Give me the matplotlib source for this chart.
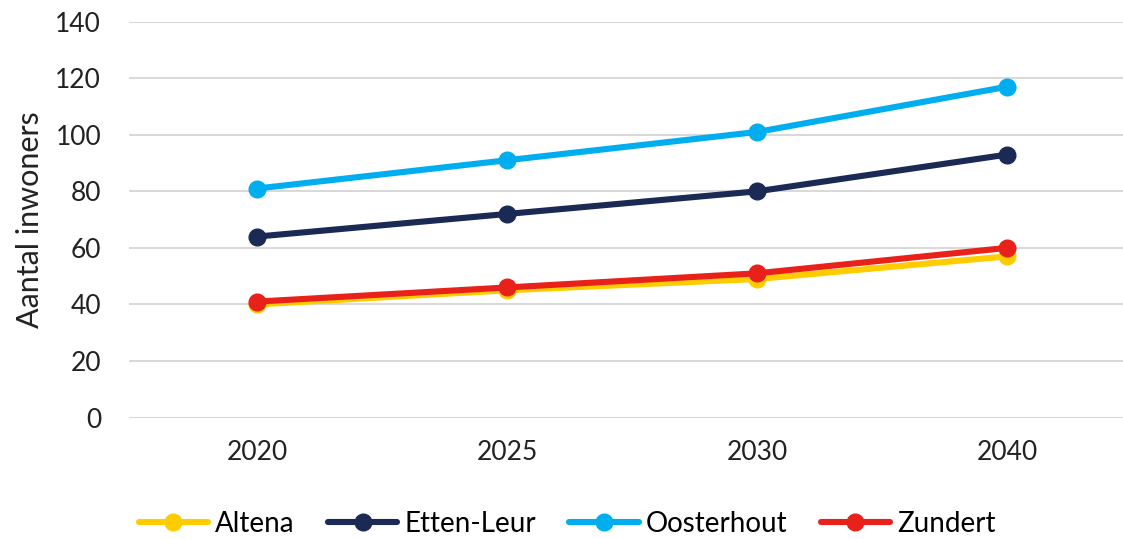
import matplotlib
matplotlib.use("Agg")
from matplotlib import pyplot as plt

# data
years = ["2020", "2025", "2030", "2040"]
altena = [40, 45, 49, 57]
etten_leur = [64, 72, 80, 93]
oosterhout = [81, 91, 101, 117]
zundert = [41, 46, 51, 60]

series = [
    ("Altena", altena, "#FFCC00"),
    ("Etten-Leur", etten_leur, "#1B2A55"),
    ("Oosterhout", oosterhout, "#00AEEF"),
    ("Zundert", zundert, "#E8211A"),
]

plt.rcParams["font.family"] = ["Lato", "DejaVu Sans"]

fig = plt.figure(figsize=(11.23, 5.39), dpi=100)
ax = fig.add_axes([129 / 1123, 0.2254, 994 / 1123, 0.7343])

x = list(range(len(years)))
for name, vals, col in series:
    ax.plot(x, vals, color=col, lw=4.4, marker="o", ms=12, label=name,
            solid_capstyle="round")

ax.set_xlim(-0.512, 3.464)
ax.set_ylim(0, 140)
ax.set_yticks(range(0, 141, 20))
ax.set_xticks(x)
ax.set_xticklabels(years)
ax.grid(axis="y", color="#d9d9d9", lw=1.5)
ax.set_axisbelow(True)
for s in ax.spines.values():
    s.set_visible(False)
ax.tick_params(axis="y", length=0, pad=20, labelsize=19, labelcolor="#222222")
ax.tick_params(axis="x", length=0, pad=16, labelsize=19, labelcolor="#222222")
ax.set_ylabel("Aantal inwoners", fontsize=22, color="#222222", labelpad=8)

fig.legend(loc="center", bbox_to_anchor=(0.505, 0.028), ncol=4, frameon=False,
           fontsize=20, handlelength=2.5, handletextpad=0.25, columnspacing=1.2)

fig.savefig("out.png", dpi=100)
